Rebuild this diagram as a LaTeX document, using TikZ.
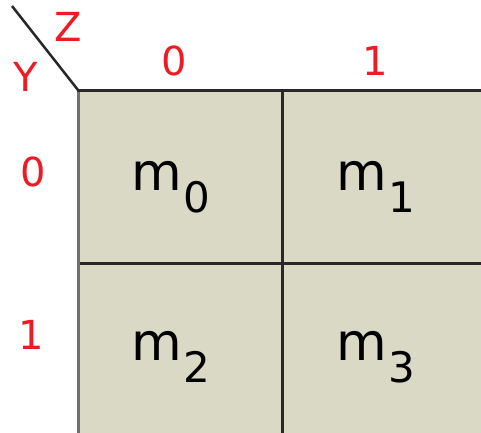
\documentclass[tikz,border=0pt]{standalone}
\usepackage{fontspec}
\setmainfont{DejaVu Sans}
\definecolor{cellfill}{RGB}{217,217,198}
\definecolor{lblred}{RGB}{237,28,36}
\definecolor{darkline}{RGB}{40,40,40}
\definecolor{leftline}{RGB}{112,112,112}
\newcommand{\mterm}[1]{{\fontsize{52}{52}\selectfont m}\kern2pt\raisebox{-22pt}{\fontsize{42}{42}\selectfont #1}}
\tikzset{
  mlabel/.style={anchor=base west, inner sep=0pt, text=black},
  rlabel/.style={inner sep=0pt, text=lblred, font=\fontsize{40}{40}\selectfont},
  gridline/.style={darkline, line width=3pt},
}
\begin{document}
\begin{tikzpicture}[x=1pt,y=1pt]
\useasboundingbox (0,0) rectangle (481,-432);
\fill[white] (0,0) rectangle (481,-432);
% cells
\fill[cellfill] (78,-90) rectangle (485,-436);
\coordinate (corner) at (78,-90);
\coordinate (diagtop) at (12,-6);
\coordinate (vtop) at (282,-90);
\coordinate (vbot) at (282,-436);
\coordinate (hleft) at (78,-263);
\coordinate (hright) at (485,-263);
\coordinate (topright) at (485,-90);
\coordinate (leftbot) at (78,-436);
\draw[gridline] (vtop) -- (vbot);
\draw[gridline] (hleft) -- (hright);
\draw[leftline, line width=3pt] (corner) -- (leftbot);
\draw[darkline, line width=3pt] ([xshift=-1.5pt]corner) -- (topright);
\draw[darkline, line width=2.5pt] (diagtop) -- (corner);
% labels
\node[rlabel] (z) at (68,-27) {Z};
\node[rlabel] (y) at (26,-77) {Y};
\node[rlabel] (c0) at (174,-61) {0};
\node[rlabel] (c1) at (375,-61) {1};
\node[rlabel] (r0) at (33,-172) {0};
\node[rlabel] (r1) at (31,-335) {1};
% minterms
\node[mlabel] (m0) at (131,-190) {\mterm{0}};
\node[mlabel] (m1) at (336,-190) {\mterm{1}};
\node[mlabel] (m2) at (131,-360) {\mterm{2}};
\node[mlabel] (m3) at (336,-360) {\mterm{3}};
\end{tikzpicture}
\end{document}
